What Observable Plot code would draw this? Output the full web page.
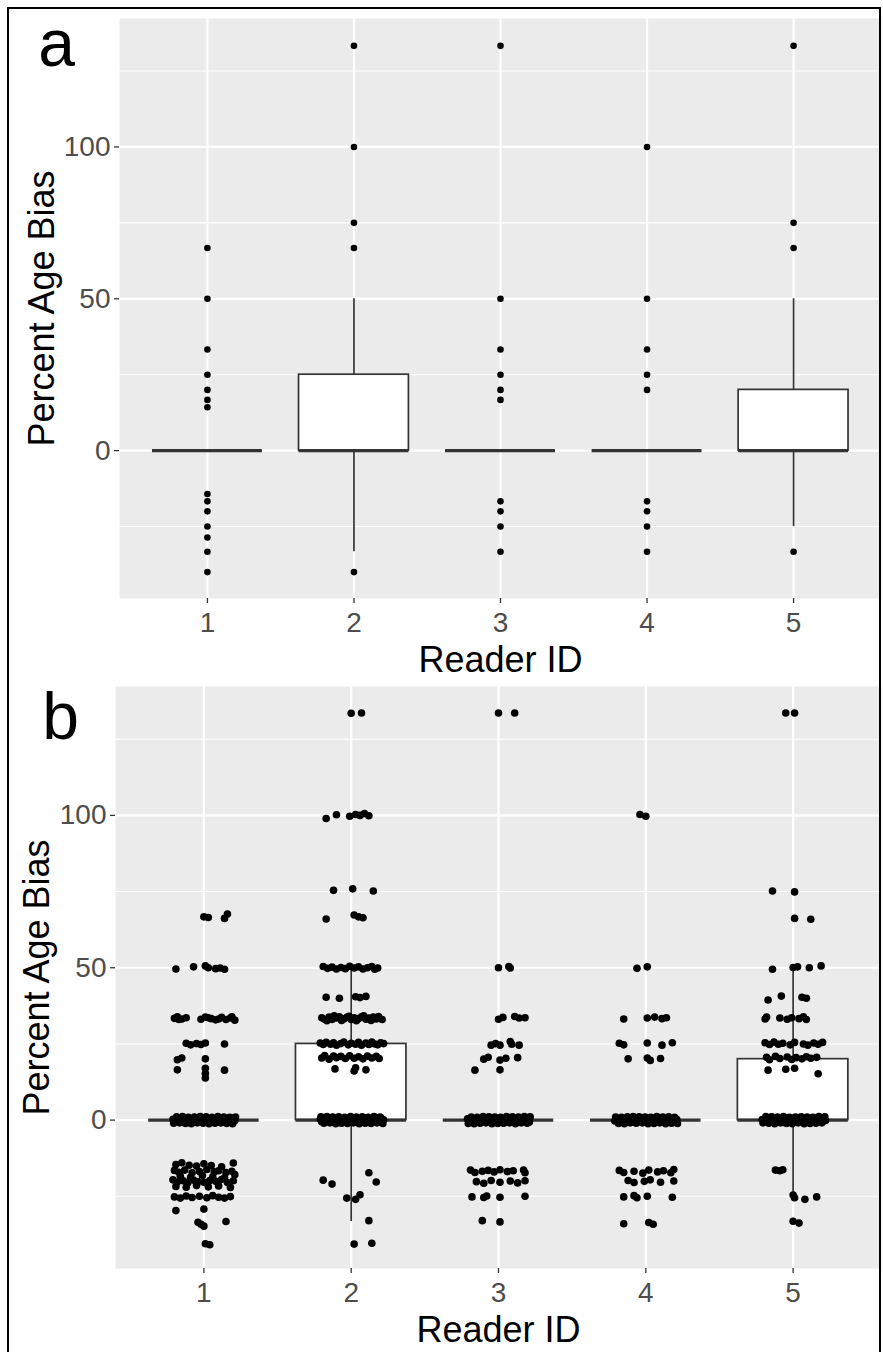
<!DOCTYPE html>
<html>
<head>
<meta charset="utf-8">
<script src="https://cdn.jsdelivr.net/npm/d3@7"></script>
<script src="https://cdn.jsdelivr.net/npm/@observablehq/plot@0.6"></script>
<style>
  html, body { margin: 0; padding: 0; background: white; }
  #wrap { position: relative; width: 883px; height: 1352px; overflow: hidden; background: white; }
  #wrap svg { position: absolute; left: 0; }
  #border { position: absolute; left: 7px; top: 7px; width: 874px; height: 1400px;
            border-left: 2.5px solid #000; border-top: 2.5px solid #000; border-right: 2.5px solid #000; box-sizing: border-box; pointer-events: none; }
</style>
</head>
<body>
<div id="wrap"><div id="border"></div></div>
<script>
// ---------- data ----------
const readers = [1, 2, 3, 4, 5];
const xTickLabels = ["1", "2", "3", "4", "5"];
const yTicks = [0, 50, 100];
const yMinor = [-25, 25, 75, 125];
const panelLabels = ["a", "b"];
const xTitle = "Reader ID";
const yTitle = "Percent Age Bias";

// box summary per reader
const q1 = [0, 0, 0, 0, 0];
const medians = [0, 0, 0, 0, 0];
const q3 = [0, 25, 0, 0, 20];
const whiskerLo = [0, -33.3, 0, 0, -25];
const whiskerHi = [0, 50, 0, 0, 50];

// panel a: outliers per reader
const outliers1 = [66.7, 50, 33.3, 25, 20, 16.7, 14.3, -14.3, -16.7, -20, -25, -28.6, -33.3, -40];
const outliers2 = [133.3, 100, 75, 66.7, -40];
const outliers3 = [133.3, 50, 33.3, 25, 20, 16.7, -16.7, -20, -25, -33.3];
const outliers4 = [100, 50, 33.3, 25, 20, -16.7, -20, -25, -33.3];
const outliers5 = [133.3, 75, 66.7, -33.3];

// panel b: all observations [jitter offset, value] per reader
const jitter1 = [
  [0.00,66.7],[0.03,66.5],[0.14,66.2],[0.16,67.6],
  [-0.19,49.6],[-0.07,50.3],[0.01,50.6],[0.03,50.0],[0.08,49.7],[0.11,49.9],[0.14,49.5],
  [-0.20,33.4],[-0.18,33.9],[-0.15,33.2],[-0.12,33.6],[-0.02,33.1],[0.01,33.8],[0.05,33.3],[0.08,32.9],[0.12,33.7],[0.15,33.0],[0.18,33.5],[0.21,32.8],
  [-0.17,33.0],[0.03,33.6],[0.10,33.2],[0.19,33.9],
  [-0.12,25.2],[-0.09,24.7],[-0.05,25.1],[-0.02,24.8],[0.01,25.3],[0.14,25.0],
  [-0.18,19.8],[-0.15,20.4],[-0.18,16.5],[0.01,20.1],[0.01,17.0],[0.01,15.3],[0.01,13.8],[0.14,16.4],
  [-0.21,0.3],[-0.20,-0.6],[-0.18,0.5],[-0.17,-0.2],[-0.15,0.7],[-0.14,-0.5],[-0.12,0.2],[-0.10,-0.8],[-0.09,0.4],[-0.07,-0.3],[-0.06,0.8],[-0.04,-0.6],
  [-0.03,0.1],[-0.01,0.6],[0.00,-0.4],[0.02,0.3],[0.03,-0.7],[0.05,0.5],[0.06,-0.1],[0.08,0.7],[0.09,-0.5],[0.11,0.2],[0.12,-0.8],[0.13,0.6],
  [0.15,-0.3],[0.16,0.4],[0.18,-0.6],[0.19,0.1],[0.20,0.7],[0.21,-0.2],[-0.13,0.0],[0.07,0.0],
  [-0.205,-1.0],[-0.185,1.1],[-0.165,-0.9],[-0.145,1.2],[-0.125,-1.1],[-0.105,0.9],[-0.085,-1.2],[-0.065,1.0],[-0.045,-0.9],[-0.025,1.2],[-0.005,-1.0],
  [0.015,1.1],[0.035,-1.2],[0.055,0.9],[0.075,-1.0],[0.095,1.2],[0.115,-0.9],[0.135,1.0],[0.155,-1.1],[0.175,0.9],[0.195,-1.2],[0.215,1.0],
  [-0.19,-14.6],[-0.15,-14.0],[-0.10,-14.8],[-0.05,-15.1],[0.00,-14.3],[0.05,-14.9],[0.12,-15.3],[0.20,-14.1],
  [-0.20,-16.5],[-0.17,-17.1],[-0.13,-16.4],[-0.08,-17.3],[-0.03,-16.9],[0.02,-16.2],[0.07,-17.0],[0.10,-16.6],[0.15,-17.2],[0.19,-16.8],
  [-0.21,-19.6],[-0.18,-20.3],[-0.14,-19.9],[-0.11,-20.6],[-0.07,-19.7],[-0.04,-20.2],[0.00,-20.4],[0.04,-19.8],[0.08,-20.1],[0.12,-19.5],[0.16,-20.5],[0.20,-19.9],
  [-0.19,-21.8],[-0.12,-22.0],[-0.05,-21.5],[0.03,-21.9],[0.10,-21.6],[0.18,-22.1],
  [-0.16,-18.4],[-0.09,-18.8],[-0.01,-18.2],[0.06,-18.6],[0.14,-18.9],[0.21,-17.9],
  [-0.20,-25.2],[-0.16,-25.6],[-0.12,-24.9],[-0.08,-25.4],[-0.03,-25.0],[0.02,-25.5],[0.06,-24.8],[0.10,-25.3],[0.14,-25.6],[0.18,-25.1],
  [-0.19,-29.7],[0.00,-29.2],
  [-0.04,-33.5],[-0.02,-34.2],[0.00,-34.8],[0.15,-33.3],
  [0.01,-40.6],[0.04,-40.9]
];
const jitter2 = [
  [0.00,133.5],[0.07,133.6],
  [-0.17,99.0],[-0.10,100.2],[-0.01,99.7],[0.03,100.3],[0.06,100.0],[0.09,100.6],[0.12,99.9],
  [-0.12,75.4],[0.01,75.9],[0.15,75.2],
  [-0.17,66.0],[0.02,67.3],[0.05,66.7],[0.08,66.4],
  [-0.19,50.4],[-0.16,49.8],[-0.13,50.2],[-0.10,49.6],[-0.07,50.1],[-0.04,49.7],[-0.01,50.5],[0.02,49.9],[0.05,50.3],[0.08,49.6],[0.11,50.0],[0.14,50.4],[0.16,49.5],[0.18,49.9],
  [-0.17,40.3],[-0.08,40.0],[0.03,40.5],[0.06,40.2],[0.10,40.6],
  [-0.20,33.6],[-0.18,33.1],[-0.15,33.8],[-0.13,33.0],[-0.10,33.5],[-0.08,33.9],[-0.05,33.2],[-0.03,33.7],[0.00,33.0],[0.02,33.6],[0.05,33.3],[0.07,33.9],[0.10,33.1],[0.12,33.5],[0.15,33.8],[0.17,33.2],[0.19,33.6],[0.21,33.0],
  [-0.165,32.6],[-0.115,34.2],[-0.065,32.7],[-0.015,34.1],[0.035,32.6],[0.085,34.2],[0.135,32.7],[0.185,34.0],
  [-0.21,25.3],[-0.19,24.8],[-0.17,25.5],[-0.14,24.9],[-0.12,25.4],[-0.10,24.6],[-0.07,25.1],[-0.05,25.6],[-0.02,24.7],[0.00,25.2],[0.03,24.9],[0.05,25.5],[0.07,24.6],[0.10,25.3],[0.12,24.8],[0.14,25.6],[0.16,25.0],[0.18,24.7],[0.20,25.4],[0.22,25.1],
  [-0.20,20.4],[-0.18,21.2],[-0.15,20.0],[-0.12,21.0],[-0.10,20.5],[-0.07,20.9],[-0.04,20.2],[-0.01,21.1],[0.02,20.3],[0.05,20.8],[0.08,20.1],[0.11,21.0],[0.14,20.4],[0.17,20.9],[0.19,20.2],
  [-0.11,16.8],[0.02,16.1],[0.03,17.2],[0.10,16.5],
  [-0.21,0.3],[-0.20,-0.5],[-0.18,0.6],[-0.17,-0.2],[-0.16,0.4],[-0.14,-0.7],[-0.13,0.1],[-0.12,0.8],[-0.10,-0.4],[-0.09,0.5],[-0.08,-0.8],[-0.06,0.2],
  [-0.05,-0.3],[-0.04,0.7],[-0.02,-0.6],[-0.01,0.4],[0.00,-0.1],[0.02,0.6],[0.03,-0.5],[0.04,0.3],[0.06,-0.8],[0.07,0.5],[0.08,-0.2],[0.10,0.7],
  [0.11,-0.4],[0.12,0.2],[0.14,-0.7],[0.15,0.6],[0.16,-0.1],[0.18,0.4],[0.19,-0.6],[0.20,0.8],[0.21,-0.3],[0.22,0.1],[-0.07,0.0],
  [-0.205,1.1],[-0.185,-1.0],[-0.165,1.2],[-0.145,-0.9],[-0.125,1.0],[-0.105,-1.2],[-0.085,1.1],[-0.065,-1.0],[-0.045,0.9],[-0.025,-1.1],[-0.005,1.2],
  [0.015,-0.9],[0.035,1.0],[0.055,-1.2],[0.075,1.1],[0.095,-1.0],[0.115,0.9],[0.135,-1.1],[0.155,1.2],[0.175,-0.9],[0.195,1.0],[0.215,-1.1],
  [-0.19,-19.7],[-0.13,-21.0],[0.12,-17.3],[0.17,-20.3],[-0.03,-25.6],[0.03,-26.0],[0.06,-24.5],[0.12,-33.0],[0.02,-40.7],[0.14,-40.4]
];
const jitter3 = [
  [0.00,133.6],[0.11,133.6],
  [0.00,50.0],[0.07,50.4],[0.08,49.9],
  [0.00,33.1],[0.03,33.7],[0.11,34.0],[0.14,33.5],[0.18,33.6],
  [-0.05,24.6],[-0.02,25.1],[0.01,24.6],[0.08,25.8],[0.09,24.9],[0.14,24.6],
  [-0.10,20.0],[-0.07,20.6],[0.01,19.7],[0.05,20.3],[0.13,20.5],
  [-0.16,16.4],[0.01,16.5],
  [-0.21,0.4],[-0.19,-0.5],[-0.18,0.7],[-0.16,-0.2],[-0.15,0.3],[-0.13,-0.7],[-0.12,0.5],[-0.10,-0.4],[-0.08,0.8],[-0.07,-0.1],
  [-0.05,0.2],[-0.04,-0.6],[-0.02,0.6],[0.00,-0.3],[0.01,0.4],[0.03,-0.8],[0.04,0.1],[0.06,0.7],[0.07,-0.5],[0.09,0.3],
  [0.10,-0.2],[0.12,0.6],[0.13,-0.7],[0.15,0.2],[0.16,-0.4],[0.18,0.5],[0.19,-0.1],[0.20,0.8],[0.21,-0.6],[-0.11,0.0],
  [-0.205,-1.1],[-0.185,1.0],[-0.165,-1.2],[-0.145,0.9],[-0.125,-1.0],[-0.105,1.2],[-0.085,-0.9],[-0.065,1.1],[-0.045,-1.2],[-0.025,1.0],[-0.005,-1.1],
  [0.015,0.9],[0.035,-1.0],[0.055,1.2],[0.075,-0.9],[0.095,1.1],[0.115,-1.2],[0.135,1.0],[0.155,-0.9],[0.175,1.2],[0.195,-1.0],[0.215,1.1],
  [-0.19,-16.4],[-0.16,-17.2],[-0.11,-16.8],[-0.07,-16.5],[-0.03,-17.0],[0.01,-16.3],[0.06,-16.9],[0.10,-16.6],[0.17,-16.4],[0.18,-17.3],
  [-0.15,-20.2],[-0.10,-20.7],[-0.05,-19.8],[0.01,-20.4],[0.08,-20.0],[0.13,-20.6],[0.18,-19.9],
  [-0.18,-25.2],[-0.10,-25.4],[-0.08,-24.9],[0.01,-25.3],[0.18,-25.0],
  [-0.11,-33.0],[0.01,-33.4]
];
const jitter4 = [
  [-0.04,100.3],[0.00,99.7],
  [-0.06,49.8],[0.01,50.3],
  [-0.15,33.2],[0.01,33.5],[0.06,33.8],[0.11,33.3],[0.14,33.6],
  [-0.18,25.2],[-0.15,24.7],[0.01,25.3],[0.11,24.6],[0.18,25.4],
  [-0.12,20.1],[0.01,20.4],[0.03,19.6],[0.10,20.2],
  [-0.21,-0.3],[-0.19,0.5],[-0.18,-0.6],[-0.16,0.2],[-0.15,-0.1],[-0.13,0.7],[-0.12,-0.4],[-0.10,0.3],[-0.08,-0.7],[-0.07,0.6],
  [-0.05,-0.2],[-0.04,0.4],[-0.02,-0.8],[0.00,0.1],[0.01,0.7],[0.03,-0.5],[0.04,0.3],[0.06,-0.3],[0.07,0.8],[0.09,-0.6],
  [0.10,0.2],[0.12,-0.1],[0.13,0.5],[0.15,-0.7],[0.16,0.4],[0.18,-0.4],[0.19,0.6],[0.20,-0.2],[0.21,0.3],[-0.09,0.0],
  [-0.205,1.0],[-0.185,-1.1],[-0.165,0.9],[-0.145,-1.2],[-0.125,1.1],[-0.105,-0.9],[-0.085,1.2],[-0.065,-1.0],[-0.045,1.1],[-0.025,-0.9],[-0.005,1.0],
  [0.015,-1.2],[0.035,0.9],[0.055,-1.1],[0.075,1.2],[0.095,-0.9],[0.115,1.0],[0.135,-1.2],[0.155,1.1],[0.175,-1.0],[0.195,0.9],[0.215,-1.1],
  [-0.18,-16.5],[-0.15,-17.2],[-0.08,-16.8],[-0.02,-17.4],[0.02,-16.4],[0.08,-17.0],[0.12,-16.6],[0.17,-17.3],[0.19,-16.2],
  [-0.12,-19.8],[-0.08,-20.5],[-0.01,-20.1],[0.03,-19.6],[0.10,-20.4],[0.19,-20.0],
  [-0.15,-25.2],[-0.08,-24.8],[-0.06,-25.5],[0.01,-25.0],[0.18,-25.3],
  [-0.15,-34.0],[0.02,-33.6],[0.05,-34.2]
];
const jitter5 = [
  [-0.05,133.6],[0.01,133.6],
  [-0.14,75.2],[0.01,74.9],
  [0.01,66.2],[0.12,65.9],
  [-0.14,49.5],[0.00,50.1],[0.03,50.3],[0.11,50.0],[0.19,50.6],
  [-0.17,39.4],[-0.08,40.7],[0.06,40.3],[0.09,40.0],
  [-0.19,33.2],[-0.18,33.8],[-0.09,33.5],[-0.04,33.1],[-0.01,33.6],[0.04,33.3],[0.07,33.9],[0.09,33.0],
  [-0.19,25.4],[-0.16,24.8],[-0.13,25.6],[-0.10,24.9],[-0.07,25.2],[-0.02,24.7],[0.01,25.5],[0.07,25.0],[0.10,24.6],[0.14,25.3],[0.17,24.9],[0.20,25.5],
  [-0.18,20.6],[-0.16,19.8],[-0.12,20.9],[-0.09,20.2],[-0.04,20.7],[-0.01,19.9],[0.02,20.5],[0.06,20.1],[0.09,20.8],[0.12,20.3],[0.16,20.6],
  [-0.17,16.4],[-0.05,16.7],[0.01,17.0],[0.17,15.2],
  [-0.21,0.2],[-0.20,-0.6],[-0.18,0.5],[-0.17,-0.3],[-0.16,0.8],[-0.14,-0.1],[-0.13,0.4],[-0.12,-0.7],[-0.10,0.6],[-0.09,-0.4],[-0.08,0.1],[-0.06,-0.8],
  [-0.05,0.7],[-0.04,-0.2],[-0.02,0.3],[-0.01,-0.6],[0.00,0.5],[0.02,-0.3],[0.03,0.8],[0.04,-0.5],[0.06,0.1],[0.07,-0.7],[0.08,0.4],[0.10,-0.1],
  [0.11,0.6],[0.12,-0.4],[0.14,0.2],[0.15,-0.8],[0.16,0.7],[0.18,-0.2],[0.19,0.3],[0.20,-0.5],[0.21,0.6],[0.22,-0.1],[-0.11,0.0],
  [-0.205,-0.9],[-0.185,1.2],[-0.165,-1.0],[-0.145,1.1],[-0.125,-1.2],[-0.105,1.0],[-0.085,-0.9],[-0.065,1.2],[-0.045,-1.1],[-0.025,0.9],[-0.005,-1.2],
  [0.015,1.0],[0.035,-0.9],[0.055,1.1],[0.075,-1.2],[0.095,1.0],[0.115,-1.1],[0.135,0.9],[0.155,-1.0],[0.175,1.2],[0.195,-0.9],[0.215,1.1],
  [-0.12,-16.4],[-0.09,-16.6],[-0.07,-16.3],
  [0.00,-24.6],[0.01,-25.5],[0.08,-26.0],[0.16,-25.2],
  [0.00,-33.2],[0.04,-33.8]
];

// ---------- derived tables ----------
const stats = readers.map((r, i) => ({r, q1: q1[i], med: medians[i], q3: q3[i], lo: whiskerLo[i], hi: whiskerHi[i]}));
const outlierPoints = [outliers1, outliers2, outliers3, outliers4, outliers5]
  .flatMap((arr, i) => arr.map(v => ({x: readers[i], y: v})));
const jitterPoints = [jitter1, jitter2, jitter3, jitter4, jitter5]
  .flatMap((arr, i) => arr.map(([dx, v]) => ({x: readers[i] + dx, y: v})));

const FONT = "'Liberation Sans', Arial, sans-serif";
const HALF_BOX = 0.375;

function panel({label, points, r, marginLeft, marginTop, marginBottom, height, top, labelDx, labelDy, titleDx}) {
  const svg = Plot.plot({
    width: 883,
    height,
    marginLeft,
    marginRight: 2,
    marginTop,
    marginBottom,
    style: {background: "transparent", fontFamily: FONT, overflow: "visible"},
    x: {domain: [0.4, 5.6], axis: null},
    y: {domain: [-48.7, 142.3], axis: null},
    marks: [
      Plot.frame({fill: "#EBEBEB", stroke: "none"}),
      Plot.ruleY(yMinor, {stroke: "white", strokeWidth: 1.1}),
      Plot.ruleY(yTicks, {stroke: "white", strokeWidth: 2.2}),
      Plot.ruleX(readers, {stroke: "white", strokeWidth: 2.2}),
      Plot.ruleX(stats, {x: "r", y1: "q3", y2: "hi", stroke: "#333", strokeWidth: 1.7}),
      Plot.ruleX(stats, {x: "r", y1: "lo", y2: "q1", stroke: "#333", strokeWidth: 1.7}),
      Plot.rect(stats, {x1: d => d.r - HALF_BOX, x2: d => d.r + HALF_BOX, y1: "q1", y2: "q3", fill: "white", stroke: "#333", strokeWidth: 1.7}),
      Plot.ruleY(stats, {y: "med", x1: d => d.r - HALF_BOX, x2: d => d.r + HALF_BOX, stroke: "#333", strokeWidth: 3.4}),
      Plot.dot(points, {x: "x", y: "y", r, fill: "black", stroke: "none"}),
      Plot.axisX(readers, {tickSize: 5, tickPadding: 9, fontSize: 28, fill: "#4D4D4D", stroke: "#333", strokeWidth: 1.3, tickFormat: (d, i) => xTickLabels[i], label: null}),
      Plot.axisY(yTicks, {tickSize: 5, tickPadding: 4, fontSize: 28, fill: "#4D4D4D", stroke: "#333", strokeWidth: 1.3, label: null}),
      Plot.text([xTitle], {frameAnchor: "bottom", dy: 61.5, fontSize: 36, fill: "black", text: d => d, lineAnchor: "middle", textAnchor: "middle"}),
      Plot.text([yTitle], {frameAnchor: "left", dx: titleDx, rotate: -90, fontSize: 36, fill: "black", text: d => d, lineAnchor: "middle", textAnchor: "middle"}),
      Plot.text([label], {frameAnchor: "top-left", dx: labelDx, dy: labelDy, fontSize: 66, fill: "black", text: d => d, lineAnchor: "middle", textAnchor: "middle"})
    ]
  });
  svg.style.top = top + "px";
  return svg;
}

const wrap = document.getElementById("wrap");
const border = document.getElementById("border");
wrap.insertBefore(panel({label: panelLabels[0], points: outlierPoints, r: 3.3, marginLeft: 119, marginTop: 18, marginBottom: 82, height: 680, top: 0, labelDx: -63, labelDy: 26, titleDx: -77.5}), border);
wrap.insertBefore(panel({label: panelLabels[1], points: jitterPoints, r: 3.8, marginLeft: 115, marginTop: 6, marginBottom: 84, height: 672, top: 680, labelDx: -55, labelDy: 31, titleDx: -78.5}), border);
</script>
</body>
</html>
